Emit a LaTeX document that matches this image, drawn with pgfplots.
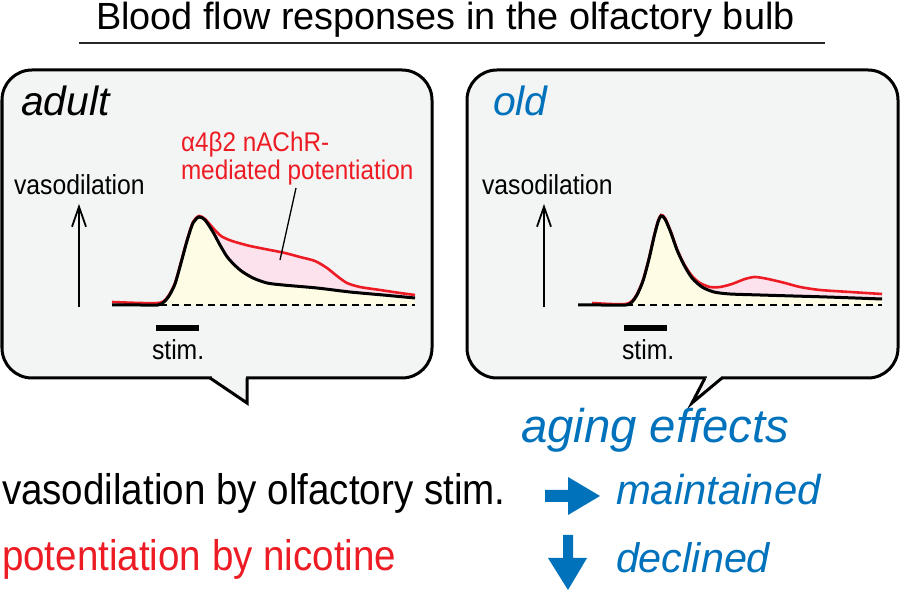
\documentclass[border=0pt]{standalone}
\usepackage{pgfplots}
\pgfplotsset{compat=1.18}
\usepgfplotslibrary{fillbetween}
\usetikzlibrary{arrows.meta}
\usepackage{fontspec}
\setmainfont{Liberation Sans}
\newfontfamily\cond{Liberation Sans}[FakeStretch=0.9]
\definecolor{myred}{RGB}{237,28,36}
\definecolor{myblue}{RGB}{0,114,188}
\definecolor{bubble}{RGB}{243,244,244}
\definecolor{yfill}{RGB}{255,252,230}
\definecolor{pfill}{RGB}{252,226,236}
\newcommand\fs[1]{\fontsize{#1}{#1}\selectfont}
\tikzset{lbl/.style={inner sep=0pt, outer sep=0pt, anchor=base west}}
\begin{document}
\begin{tikzpicture}
\begin{axis}[name=main, x=1bp, y=1bp, xmin=0, xmax=902, ymin=0, ymax=591,
  y dir=reverse, hide axis, clip=false, set layers=standard]

\begin{pgfonlayer}{axis background}
\draw[line width=3bp, fill=bubble, rounded corners=30bp] (2,70) rectangle (432,378);
\fill[bubble] (212,375) rectangle (245.5,381);
\draw[line width=3bp, line join=miter, fill=bubble] (210,378) -- (247,403) -- (247,378);
\draw[line width=3bp, fill=bubble, rounded corners=30bp] (467,70) rectangle (898,378);
\fill[bubble] (706.5,375) rectangle (720.5,381);
\draw[line width=3bp, line join=miter, fill=bubble] (722,378) -- (692,403) -- (705,378);
\end{pgfonlayer}

% ---- adult panel ----
\addplot[name path=abase, black, line width=1.2bp, dash pattern=on 7bp off 5bp] coordinates {(112,305) (415,305)};
\addplot[name path=ared, myred, line width=2.6bp, smooth, tension=0.45] coordinates {
(112,302) (140,303) (158,303) (164,301) (169,295) (175,283) (181,262) (187,240) (193,222) (199,216) (205,219)
(213,228) (221,236) (232,241) (250,246) (270,250) (285,253) (300,257) (315,261) (327,268) (337,276) (347,283)
(360,287) (380,290) (400,293) (415,295)};
\addplot[name path=ablack, black, line width=3bp, smooth, tension=0.45] coordinates {
(112,305) (140,305) (158,305) (164,302) (169,296) (175,284) (181,263) (187,241) (193,223) (199,217) (205,220)
(213,232) (220,245) (228,258) (240,270) (253,278) (267,283) (283,285) (317,288) (350,292) (383,295) (415,298)};
\addplot[yfill] fill between[of=ablack and abase, soft clip={domain=158:415}];
\addplot[pfill] fill between[of=ared and ablack, soft clip={domain=200:415}];

% ---- old panel ----
\addplot[name path=obase, black, line width=1.2bp, dash pattern=on 7bp off 5bp] coordinates {(578,305) (882,305)};
\addplot[name path=ored, myred, line width=2.6bp, smooth, tension=0.45] coordinates {
(592,303) (610,304) (626,304) (632,301) (637,294) (643,280) (649,258) (654,236) (658,221) (661,215) (665,218)
(671,232) (677,249) (684,264) (692,276) (700,283) (710,287) (720,287) (732,284) (745,279) (755,277) (768,279)
(785,283) (800,287) (820,290) (850,292) (882,294)};
\addplot[name path=oblack, black, line width=3bp, smooth, tension=0.45] coordinates {
(578,305) (600,305) (626,305) (632,302) (637,295) (643,281) (649,259) (654,237) (658,222) (661,216) (665,219)
(671,233) (677,250) (684,265) (692,278) (702,287) (714,292) (730,294) (760,295) (793,296) (827,297) (882,299)};
\addplot[yfill] fill between[of=oblack and obase, soft clip={domain=626:882}];
\addplot[pfill] fill between[of=ored and oblack, soft clip={domain=700:882}];

% ---- decorations ----
\draw[line width=2.5bp, black!85] (79,43) -- (825,43);
\draw[line width=1.3bp] (296,188) -- (280,260);
\draw[line width=1.8bp, -{Straight Barb[length=20bp,width=14bp,line width=1.8bp]}] (79,307) -- (79,204);
\draw[line width=1.8bp, -{Straight Barb[length=20bp,width=14bp,line width=1.8bp]}] (544,307) -- (544,204);
\draw[line width=6bp] (156,328) -- (199,328);
\draw[line width=6bp] (624,328) -- (667,328);
\fill[myblue] (545,490) -- (568,490) -- (568,477) -- (600,496) -- (568,515) -- (568,502) -- (545,502) -- cycle;
\fill[myblue] (563,535) -- (573,535) -- (573,558) -- (587,558) -- (568,590) -- (548,558) -- (563,558) -- cycle;

% ---- text ----
\node[lbl, font=\fs{38}] at (96,30) {Blood flow responses in the olfactory bulb};
\node[lbl, font=\fs{41}\itshape] at (21,116) {adult};
\node[lbl, font=\fs{41}\itshape, text=myblue] at (493,116) {old};
\node[lbl, font=\cond\fs{27.1}, text=myred] at (181,152) {α4β2 nAChR-};
\node[lbl, font=\cond\fs{27.1}, text=myred] at (181,180) {mediated potentiation};
\node[lbl, font=\cond\fs{27.6}] at (14,195) {vasodilation};
\node[lbl, font=\cond\fs{27.6}] at (482,195) {vasodilation};
\node[lbl, font=\cond\fs{27.6}] at (152,360) {stim.};
\node[lbl, font=\cond\fs{27.6}] at (622,360) {stim.};
\node[lbl, font=\fs{47.5}\itshape, text=myblue] at (521,443) {aging effects};
\node[lbl, font=\cond\fs{43}] at (2,505) {vasodilation by olfactory stim.};
\node[lbl, font=\cond\fs{43}, text=myred] at (2,571) {potentiation by nicotine};
\node[lbl, font=\fs{42}\itshape, text=myblue] at (616,505) {maintained};
\node[lbl, font=\fs{41.5}\itshape, text=myblue] at (616,573) {declined};
\end{axis}
\pgfresetboundingbox
\path (main.south west) rectangle (main.north east);
\end{tikzpicture}
\end{document}
